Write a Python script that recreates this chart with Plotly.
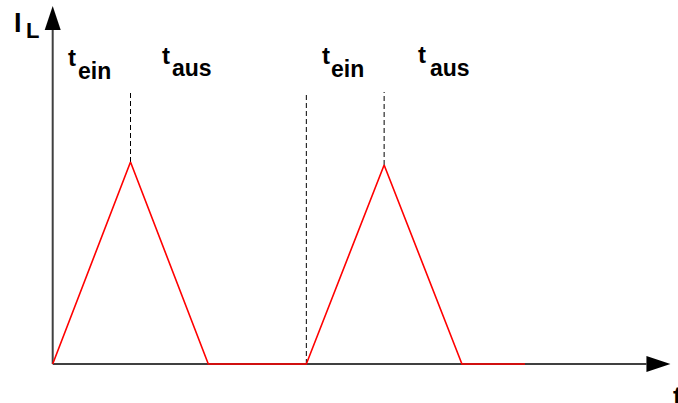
# Strom durch die Spule (I_L) bei zwei Schaltperioden t_ein / t_aus.
import plotly.graph_objects as go

# Zeit- und Stromwerte des Verlaufs (normierte Einheiten)
t_werte = [0.0, 1.0, 2.0, 3.26, 4.26, 5.26, 6.07]
i_werte = [0.0, 2.02, 0.0, 0.0, 1.99, 0.0, 0.0]

# gestrichelte Markierungen: Zeitpunkt, Start- und Endwert
mark_t = [1.0, 3.26, 4.26]
mark_von = [2.02, 0.0, 1.99]
mark_bis = [2.72, 2.72, 2.72]

# Achsenenden (Pfeilspitzen)
t_achse_ende = 7.94
i_achse_ende = 3.58

# Beschriftungen: Haupttext, Index
labels = [("t", "ein"), ("t", "aus"), ("t", "ein"), ("t", "aus")]

W, H = 678, 403
X0_PX, X_SCALE = 52.7, 77.8   # Pixel des Ursprungs, Pixel pro Einheit
Y0_PX, Y_SCALE = 364.0, 100.0


def px_x(px):
    return (px - X0_PX) / X_SCALE


def px_y(py):
    return (Y0_PX - py) / Y_SCALE


AXIS_COLOR = "#404040"
FONT = "Liberation Sans"

fig = go.Figure()

# Achsenlinien
fig.add_trace(go.Scatter(
    x=[0, 0], y=[0, i_achse_ende - 24 / Y_SCALE],
    mode="lines", line=dict(color=AXIS_COLOR, width=2), hoverinfo="skip"))
fig.add_trace(go.Scatter(
    x=[0, t_achse_ende - 24 / X_SCALE], y=[0, 0],
    mode="lines", line=dict(color=AXIS_COLOR, width=2), hoverinfo="skip"))

# gestrichelte Linien
for t, y0, y1 in zip(mark_t, mark_von, mark_bis):
    fig.add_trace(go.Scatter(
        x=[t, t], y=[y0, y1], mode="lines",
        line=dict(color="black", width=1, dash="5px,3px"), hoverinfo="skip"))

# Stromverlauf
fig.add_trace(go.Scatter(
    x=t_werte, y=i_werte, mode="lines",
    line=dict(color="#ff0000", width=1.6), hoverinfo="skip"))

# Pfeilspitzen
hx, hy = 24 / X_SCALE, 24 / Y_SCALE
wx, wy = 8 / X_SCALE, 8 / Y_SCALE
shapes = [
    dict(type="path", xref="x", yref="y", line=dict(width=0), fillcolor="black",
         path=f"M 0 {i_achse_ende} L {-wx} {i_achse_ende - hy} L {wx} {i_achse_ende - hy} Z"),
    dict(type="path", xref="x", yref="y", line=dict(width=0), fillcolor="black",
         path=f"M {t_achse_ende} 0 L {t_achse_ende - hx} {wy} L {t_achse_ende - hx} {-wy} Z"),
]

annotations = []


def text(txt, left_px, base_px, size):
    # Position ueber linke Kante und Grundlinie in Pixeln (paper-Koordinaten,
    # damit auch das abgeschnittene "t" unten rechts gezeichnet wird)
    annotations.append(dict(
        x=(left_px - 1) / W, y=1 - (base_px + 0.22 * size + 1) / H,
        xref="paper", yref="paper", xanchor="left", yanchor="bottom",
        text=txt, showarrow=False,
        font=dict(family=FONT, size=size, color="black", weight="bold")))


# Label-Positionen (links, Grundlinie)
haupt_pos = [(67, 67), (161, 65), (321, 65), (417, 64)]
index_pos = [(77, 80), (171, 77), (330, 78), (429, 77)]
for (h, i), (hx_, hy_), (ix, iy) in zip(labels, haupt_pos, index_pos):
    text(h, hx_, hy_, 24)
    text(i, ix, iy, 23)

text("I", 13, 33, 27)
text("L", 25, 39, 22)
text("t", 672, 407, 28)

fig.update_layout(
    width=W, height=H,
    margin=dict(l=0, r=0, t=0, b=0),
    plot_bgcolor="white", paper_bgcolor="white",
    showlegend=False,
    xaxis=dict(visible=False, range=[px_x(0), px_x(W)]),
    yaxis=dict(visible=False, range=[px_y(H), px_y(0)]),
    shapes=shapes,
    annotations=annotations,
)

# Seitenrand des Browsers entfernen, damit die Grafik bei (0, 0) beginnt
fig.write_html("out.html", config=dict(displayModeBar=False),
               post_script="document.body.style.margin='0px';")
